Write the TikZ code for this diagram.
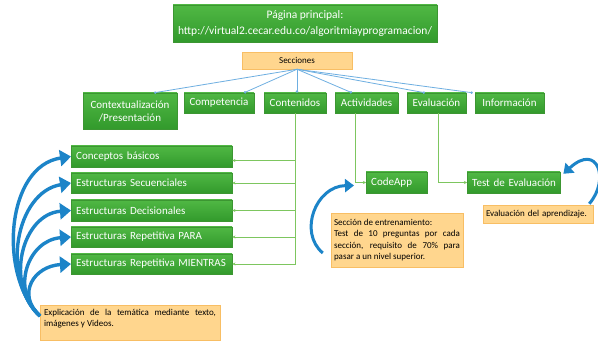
\documentclass[tikz,border=0pt]{standalone}
\usepackage{fontspec}
\setmainfont{Carlito}
\usetikzlibrary{arrows.meta,calc,shadows}
\definecolor{gtop}{RGB}{80,184,68}
\definecolor{gbot}{RGB}{50,154,44}
\definecolor{gborder}{RGB}{60,150,50}
\definecolor{oflll}{RGB}{255,214,142}
\definecolor{odraw}{RGB}{248,190,100}
\definecolor{lblue}{RGB}{110,175,225}
\definecolor{lgreen}{RGB}{125,198,95}
\definecolor{bigblue}{RGB}{28,132,200}
\tikzset{
  gbox/.style={draw=gborder, line width=0.4pt, top color=gtop, bottom color=gbot,
    text=white, font=\fontsize{11}{13}\selectfont, inner sep=0pt,
    drop shadow={shadow xshift=1pt, shadow yshift=-1pt, opacity=0.25}},
  gleft/.style={gbox, align=left, inner xsep=5pt, anchor=west},
  obox/.style={draw=odraw, line width=0.5pt, fill=oflll, text=black,
    font=\fontsize{9}{11.3}\selectfont, inner sep=0pt},
  secline/.style={draw=lblue, line width=0.8pt, -{Circle[length=2.4pt]}},
  grline/.style={draw=lgreen, line width=0.9pt, -{Stealth[length=3pt,width=3pt]}},
  barrow/.style={draw=bigblue, line width=3.4pt, -{Triangle[length=11pt,width=16pt]}},
  sarrow/.style={draw=bigblue, line width=3pt, -{Triangle[length=9pt,width=13pt]}}
}
\begin{document}
\begin{tikzpicture}[x=1pt,y=-1pt]
\useasboundingbox (0,0) rectangle (598,350);
\fill[white] (0,0) rectangle (598,350);

% top
\node[gbox, minimum width=264pt, minimum height=37pt, align=center,
  font=\fontsize{11.5}{16}\selectfont] (top) at (305,23.5)
  {Página principal:\\http://virtual2.cecar.edu.co/algoritmiayprogramacion/};
\node[obox, minimum width=110pt, minimum height=17pt, font=\fontsize{9}{10}\selectfont] (sec) at (297,60.5) {Secciones};

% second row
\node[gbox, minimum width=94pt, minimum height=36pt, align=center] (ctx) at (130,111) {Contextualización\\/Presentación};
\node[gbox, minimum width=70pt, minimum height=20pt] (comp) at (219,103) {Competencia};
\node[gbox, minimum width=62pt, minimum height=20pt] (cont) at (295,103) {Contenidos};
\node[gbox, minimum width=63pt, minimum height=20pt] (act) at (366.5,103) {Actividades};
\node[gbox, minimum width=59pt, minimum height=20pt] (eval) at (436.5,103) {Evaluación};
\node[gbox, minimum width=69pt, minimum height=20pt] (info) at (509.5,103) {Información};

\draw[secline] (sec.south) -- ([xshift=24pt]ctx.north);
\draw[secline] (sec.south) -- ([xshift=25pt]comp.north);
\draw[secline] (sec.south) -- ([xshift=2pt]cont.north);
\draw[secline] (sec.south) -- ([xshift=-14.5pt]act.north);
\draw[secline] (sec.south) -- ([xshift=-11.5pt]eval.north);
\draw[secline] (sec.south) -- ([xshift=-2pt]info.north west);

% left column
\node[gleft, text width=151pt, minimum height=21pt] (c1) at (71,156.5) {Conceptos básicos};
\node[gleft, text width=151pt, minimum height=20pt] (c2) at (71,183) {Estructuras Secuenciales};
\node[gleft, text width=151pt, minimum height=21pt] (c3) at (71,210.5) {Estructuras Decisionales};
\node[gleft, text width=151pt, minimum height=20pt] (c4) at (71,237) {Estructuras Repetitiva PARA};
\node[gleft, text width=151pt, minimum height=20pt] (c5) at (71,264) {Estructuras Repetitiva MIENTRAS};

\draw[grline] (cont.south) |- ([yshift=-4pt]c1.east);
\draw[grline] (cont.south) |- (c2.east);
\draw[grline] (cont.south) |- (c3.east);
\draw[grline] (cont.south) |- (c4.east);
\draw[grline] (cont.south) |- (c5.east);

% activities / evaluation
\node[gleft, text width=51pt, minimum height=21pt] (code) at (366,182.5) {CodeApp};
\node[gleft, text width=88pt, minimum height=21pt, inner xsep=2.5pt] (test) at (467,182.5) {\hspace{2.5pt}Test de Evaluación};
\draw[grline] ([xshift=-11pt]act.south) |- (code.west);
\draw[grline] ([xshift=1.5pt]eval.south) |- (test.west);

% orange notes
\node[obox, minimum width=132pt, minimum height=54pt, text width=126pt, align=justify, inner xsep=3pt] (train) at (397,240)
  {Sección de entrenamiento:\\Test de 10 preguntas por cada\linebreak sección, requisito de 70\% para\linebreak pasar a un nivel superior.};
\node[obox, minimum width=110pt, minimum height=18pt, text width=104pt, align=left, inner xsep=3pt] (evn) at (538,214)
  {Evaluación del aprendizaje.};
\node[obox, minimum width=180pt, minimum height=33pt, text width=172pt, align=justify, inner xsep=4pt, inner ysep=4pt, anchor=north] (expl) at (130,305)
  {Explicación de la temática mediante texto,\linebreak imágenes y Videos.\par\vspace{8pt}};

% big blue arrows
\coordinate (src) at (40,316);
\draw[barrow] (src) .. controls (-2,275) and (6,166) .. (c1.west);
\draw[barrow] (src) .. controls (0,278) and (16,192) .. (c2.west);
\draw[barrow] (src) .. controls (4,284) and (22,214) .. (c3.west);
\draw[barrow] (src) .. controls (10,290) and (28,240) .. (c4.west);
\draw[barrow] (src) .. controls (16,294) and (34,266) .. (c5.west);

\draw[sarrow] ([xshift=-8pt,yshift=-13pt]train.west) .. controls (298,232) and (316,186) .. ([xshift=-12pt,yshift=-3pt]code.west);
\draw[sarrow] ([xshift=-4pt,yshift=1pt]evn.north east) .. controls (610,180) and (598,142) .. ([xshift=3pt,yshift=-2pt]test.north east);
\end{tikzpicture}
\end{document}
